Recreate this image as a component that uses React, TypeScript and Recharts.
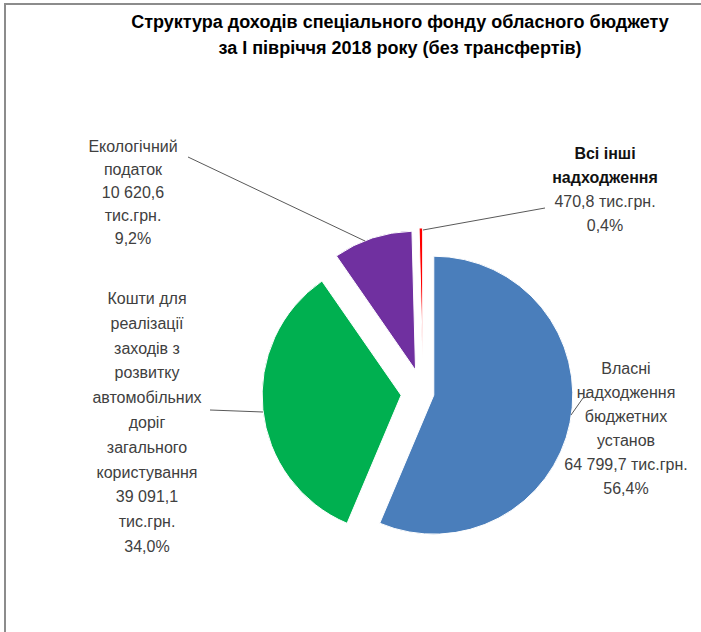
import { Pie, PieChart, Cell, Sector } from "recharts";

const TITLE_LINES = [
  "Структура доходів спеціального фонду обласного бюджету",
  "за І півріччя 2018 року (без трансфертів)",
];

// slices in clockwise order from 12 o'clock
const CATEGORY_LINES = [
  ["Власні", "надходження", "бюджетних", "установ"],
  ["Кошти для", "реалізації", "заходів з", "розвитку", "автомобільних", "доріг", "загального", "користування"],
  ["Екологічний", "податок"],
  ["Всі інші", "надходження"],
];
const VALUES = [64799.7, 39091.1, 10620.6, 470.8];
const UNIT = "тис.грн.";

const COLORS = ["#4a7ebb", "#00b050", "#7030a0", "#ff0000"];
const EXPLODE = [11, 22, 24, 26];

const CX = 418;
const CY = 388;
const RADIUS = 139;

// label placement relative to pie centre
const LABEL_LAYOUT = [
  { dx: 203, dy: -19, step: 24, unitInline: true, nameFill: "#404040", nameWeight: 400, line: [[165, 4], [160, 5], [148, 22]] },
  { dx: -276, dy: -89, step: 24.8, unitInline: false, nameFill: "#404040", nameWeight: 400, line: [[-213, 17], [-160, 19]] },
  { dx: -290, dy: -241, step: 23, unitInline: false, nameFill: "#404040", nameWeight: 400, line: [[-235, -236], [-58, -152]] },
  { dx: 182, dy: -234, step: 24, unitInline: true, nameFill: "#111111", nameWeight: 700, line: [[122, -185], [0, -163]] },
];

const data = VALUES.map((value, i) => ({ name: CATEGORY_LINES[i].join(" "), value }));

function fmtNum(v: number) {
  const [int, dec] = v.toFixed(1).split(".");
  return `${int.replace(/\B(?=(\d{3})+(?!\d))/g, " ")},${dec}`;
}

const RAD = Math.PI / 180;

function ExplodedSector(props: any) {
  const { cx, cy, midAngle, index } = props;
  const d = EXPLODE[index] ?? 0;
  const ox = d * Math.cos(-midAngle * RAD);
  const oy = d * Math.sin(-midAngle * RAD);
  return <Sector {...props} cx={cx + ox} cy={cy + oy} />;
}

function renderLabel(props: any) {
  const { cx, cy, index, percent } = props;
  const lay = LABEL_LAYOUT[index];
  const valueText = fmtNum(VALUES[index]);
  const pct = `${(percent * 100).toFixed(1).replace(".", ",")}%`;
  const rest = lay.unitInline ? [`${valueText} ${UNIT}`, pct] : [valueText, UNIT, pct];
  const names = CATEGORY_LINES[index];
  const x = cx + lay.dx;
  const pts = lay.line.map(([px, py]) => `${cx + px},${cy + py}`).join(" ");
  return (
    <g key={`lbl-${index}`}>
      <polyline points={pts} fill="none" stroke="#595959" strokeWidth={1} />
      <text x={x} y={cy + lay.dy} textAnchor="middle" fontSize={16} fontFamily="'Liberation Sans', Arial, sans-serif">
        {names.map((t, i) => (
          <tspan key={`n${i}`} x={x} dy={i === 0 ? 0 : lay.step} fill={lay.nameFill} fontWeight={lay.nameWeight}>
            {t}
          </tspan>
        ))}
        {rest.map((t, i) => (
          <tspan key={`r${i}`} x={x} dy={lay.step} fill="#404040">
            {t}
          </tspan>
        ))}
      </text>
    </g>
  );
}

export default function App() {
  return (
    <div style={{ position: "absolute", left: 0, top: 0, width: 701, height: 632, background: "#fff", overflow: "hidden" }}>
      <div
        style={{
          position: "absolute",
          left: 4,
          top: 3,
          right: -10,
          bottom: -10,
          borderLeft: "2px solid #8c8c8c",
          borderTop: "2px solid #8c8c8c",
        }}
      />
      <div
        style={{
          position: "absolute",
          left: 100,
          top: 9,
          width: 600,
          textAlign: "center",
          fontFamily: "'Liberation Sans', Arial, sans-serif",
          fontWeight: 700,
          fontSize: 18,
          lineHeight: "26px",
          color: "#000",
        }}
      >
        {TITLE_LINES.map((t) => (
          <div key={t}>{t}</div>
        ))}
      </div>
      <div style={{ position: "absolute", left: 0, top: 0 }}>
        <PieChart width={701} height={632}>
          <Pie
            data={data}
            dataKey="value"
            nameKey="name"
            cx={CX}
            cy={CY}
            outerRadius={RADIUS}
            startAngle={90}
            endAngle={-270}
            stroke="#ffffff"
            strokeWidth={1}
            shape={ExplodedSector}
            label={renderLabel}
            labelLine={false}
            isAnimationActive={false}
          >
            {data.map((_, i) => (
              <Cell key={i} fill={COLORS[i]} />
            ))}
          </Pie>
        </PieChart>
      </div>
    </div>
  );
}
